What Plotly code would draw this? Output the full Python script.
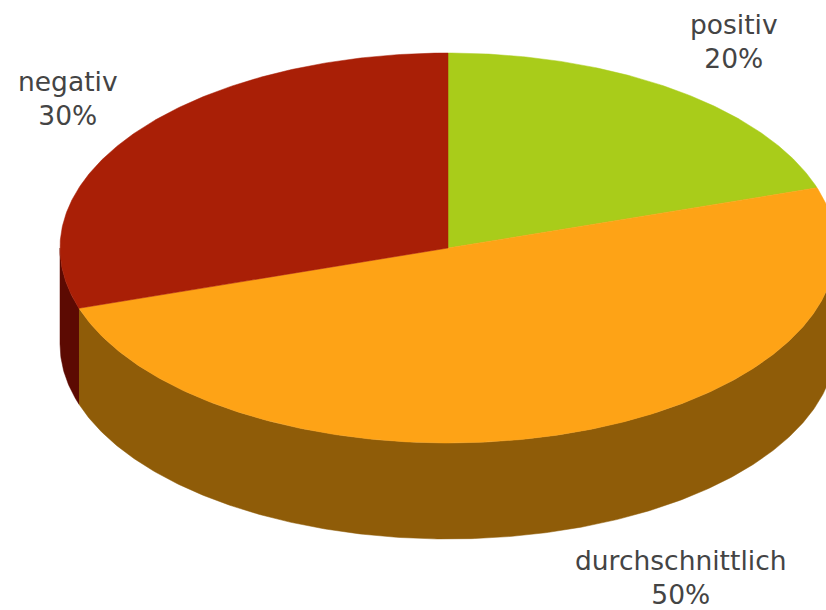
import numpy as np
import plotly.graph_objects as go

# Share of ratings per category
labels = ["positiv", "durchschnittlich", "negativ"]
values = [20, 50, 30]
top_colors = ["#a9cc1a", "#fea316", "#a91f06"]
wall_colors = ["#5f7a0e", "#8f5c08", "#5c0a02"]

WIDTH, HEIGHT = 826, 610
CX, CY = 448, 248      # centre of the top face
RX, RY = 388, 195      # ellipse radii of the tilted disc
DEPTH = 96             # height of the disc wall
START_DEG = 90         # first slice starts at twelve o'clock

# Where each caption sits, in the same units as the disc
caption_anchor = {
    "positiv": (734, 41),
    "durchschnittlich": (681, 577),
    "negativ": (68, 98),
}


def rim(a0, a1, dy=0.0):
    """Points along the ellipse from angle a0 to a1 (degrees, clockwise on screen)."""
    n = max(2, int(abs(a1 - a0) * 2))
    t = np.radians(np.linspace(a0, a1, n))
    return CX + RX * np.cos(t), CY - RY * np.sin(t) + dy


fig = go.Figure()

# Slice boundaries, walking clockwise from the start angle
shares = np.array(values, dtype=float) / sum(values)
ends = START_DEG - np.cumsum(shares) * 360
starts = np.concatenate(([START_DEG], ends[:-1]))

# Walls first: only the front half (angles 180..360, i.e. -180..0) is visible
for a0, a1, wall in zip(starts, ends, wall_colors):
    for shift in (0, -360):
        lo = max(a1 + shift, -180)
        hi = min(a0 + shift, 0)
        if hi <= lo:
            continue
        xt, yt = rim(hi, lo)
        xb, yb = rim(lo, hi, DEPTH)
        fig.add_trace(go.Scatter(
            x=np.concatenate((xt, xb)), y=np.concatenate((yt, yb)),
            mode="lines", fill="toself", fillcolor=wall,
            line=dict(color=wall, width=0.5), hoverinfo="skip",
        ))

# Top faces
for a0, a1, top, name in zip(starts, ends, top_colors, labels):
    xr, yr = rim(a0, a1)
    fig.add_trace(go.Scatter(
        x=np.concatenate(([CX], xr, [CX])), y=np.concatenate(([CY], yr, [CY])),
        mode="lines", fill="toself", fillcolor=top,
        line=dict(color=top, width=0.5), name=name, hoverinfo="name",
    ))

# Captions: name on the first line, percentage below
for name, val in zip(labels, values):
    ax, ay = caption_anchor[name]
    fig.add_annotation(
        x=ax, y=ay, text=f"{name}<br>{val}%", showarrow=False,
        font=dict(family="DejaVu Sans", size=26.5, color="#444444"),
        align="center", xanchor="center", yanchor="middle",
    )

fig.update_layout(
    width=WIDTH, height=HEIGHT,
    margin=dict(l=0, r=0, t=0, b=0),
    paper_bgcolor="white", plot_bgcolor="white",
    showlegend=False,
    xaxis=dict(range=[0, WIDTH], visible=False, fixedrange=True),
    yaxis=dict(range=[HEIGHT, 0], visible=False, fixedrange=True),
)

fig.write_html("out.html")
